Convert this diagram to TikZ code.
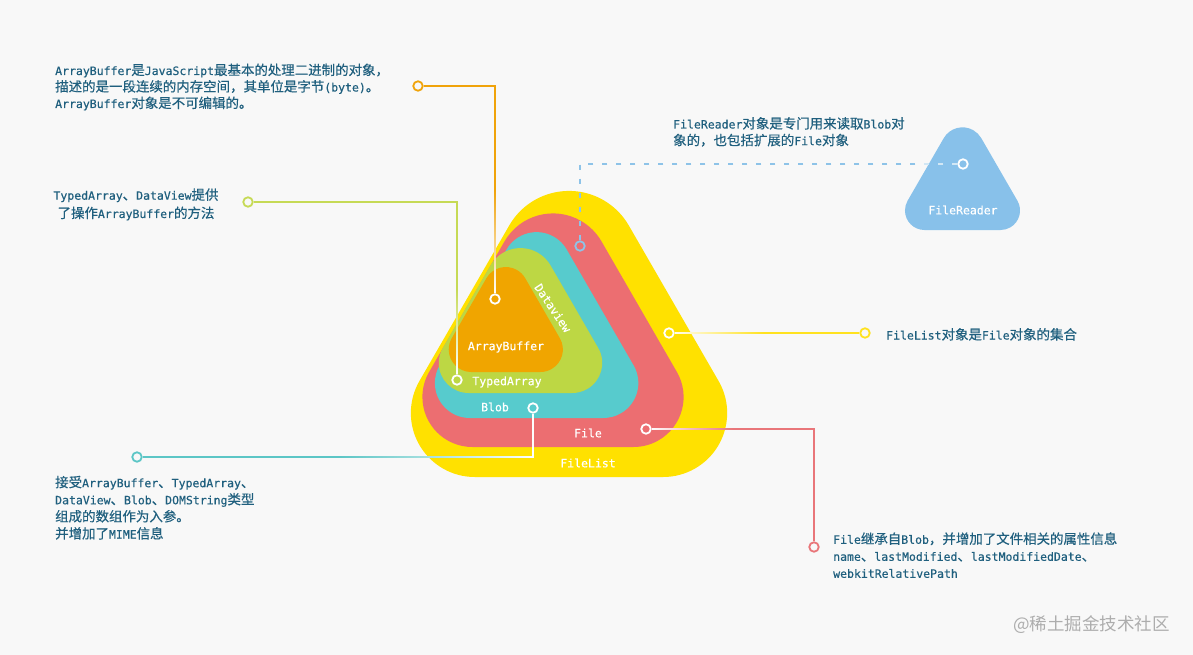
\documentclass[tikz,border=0pt]{standalone}
\usepackage{fontspec}
\setmainfont[FakeBold=0.4]{DejaVu Sans Mono}
\newfontfamily\cjkf[Scale=1.17,FakeBold=0.4]{Noto Sans CJK SC}
\newfontfamily\cjkw{Noto Sans CJK SC}
\newcommand\zh[1]{{\cjkf #1}}
\usetikzlibrary{fadings}
\definecolor{bg}{HTML}{F8F8F8}
\definecolor{shY}{HTML}{FFE100}
\definecolor{shR}{HTML}{EC6E71}
\definecolor{shT}{HTML}{57CBCD}
\definecolor{shG}{HTML}{BDD744}
\definecolor{shO}{HTML}{F0A500}
\definecolor{shB}{HTML}{88C1EA}
\definecolor{lnY}{HTML}{FFE21F}
\definecolor{lnG}{HTML}{C6DA55}
\definecolor{lnO}{HTML}{F0A30A}
\definecolor{lnT}{HTML}{5CC6C6}
\definecolor{lnR}{HTML}{E9767A}
\definecolor{lnB}{HTML}{8EC3E8}
\definecolor{txtc}{HTML}{1F5F7E}
\definecolor{wmc}{HTML}{ADADAD}
\tikzfading[name=fadeB, top color=transparent!100, bottom color=transparent!0, middle color=transparent!100]
\tikzfading[name=fadeR, left color=transparent!100, right color=transparent!0, middle color=transparent!100]
\tikzfading[name=fadeL, left color=transparent!0, right color=transparent!100, middle color=transparent!100]
% rounded equilateral triangle: colour, centre x, base y, side, apex radius, base radius
\newcommand\rtri[6]{%
  \fill[#1] ({#2-#4/2+1.732*#6},#3)
    arc[start angle=270,end angle=150,radius=#6pt]
    -- ({#2-0.866*#5},{#3-0.866*#4+1.5*#5})
    arc[start angle=150,end angle=30,radius=#5pt]
    -- ({#2+#4/2-0.866*#6},{#3-1.5*#6})
    arc[start angle=30,end angle=-90,radius=#6pt] -- cycle;}
\begin{document}
\begin{tikzpicture}[x=1pt,y=-1pt,
  txt/.style={text=txtc, inner sep=0pt, align=left},
  lab/.style={text=white, inner sep=0pt, font=\fontsize{11.5}{13}\selectfont},
  dot/.style={circle, draw, line width=1.8pt, minimum size=9.5pt, inner sep=0pt},
  conn/.style={line width=1.8pt},
  fadeline/.style={draw=white, line width=1.8pt},
  dashline/.style={dash pattern=on 5pt off 9pt}]
\useasboundingbox (0,0) rectangle (1193,655);
\fill[bg] (0,0) rectangle (1193,655);
% nested shapes
\rtri{shY}{569}{477}{410}{69}{64}
\rtri{shR}{553}{447}{334.4}{56}{50}
\rtri{shT}{536.6}{418}{254.7}{34.7}{35}
\rtri{shG}{520.5}{393}{207.4}{34.7}{30}
\rtri{shO}{505.8}{372}{147.1}{22.4}{22.5}
\rtri{shB}{962.5}{230}{143.6}{21.7}{19.5}
% shape labels
\node[lab] (lAB) at (506,347) {ArrayBuffer};
\node[lab] (lTA) at (507,382) {TypedArray};
\node[lab] (lBl) at (495,407) {Blob};
\node[lab] (lFi) at (588,433) {File};
\node[lab] (lFL) at (588,463) {FileList};
\node[lab, rotate=-56] (lDV) at (553,308) {Dataview};
\node[lab] (lFR) at (963,210) {FileReader};
% circles
\node[dot, lnO] (abO) at (418,86) {};
\node[dot, white] (abI) at (495,299) {};
\node[dot, lnG] (taO) at (248,202) {};
\node[dot, white] (taI) at (457,380) {};
\node[dot, white] (blI) at (533,408) {};
\node[dot, lnT] (blO) at (137,457) {};
\node[dot, white] (fiI) at (646,429) {};
\node[dot, lnR] (fiO) at (814,547) {};
\node[dot, white] (flI) at (669,333) {};
\node[dot, lnY] (flO) at (865,333) {};
\node[dot, white] (frI) at (963,164) {};
\node[dot, lnB] (frO) at (580,246) {};
\coordinate (frE) at (922,164);
% connectors
\draw[conn, lnO] (abO) -| (abI);
\draw[fadeline, path fading=fadeB] (abO) -| (abI);
\draw[conn, lnG] (taO) -| (taI);
\draw[fadeline, path fading=fadeB] (taO) -| (taI);
\draw[conn, lnT] (blI) |- (blO);
\draw[fadeline, path fading=fadeR] (blI) |- (blO);
\draw[conn, lnR] (fiI) -| (fiO);
\draw[fadeline, path fading=fadeL] (fiI) -| (fiO);
\draw[conn, lnY] (flI) -- (flO);
\draw[fadeline, path fading=fadeL] (flI) -- (flO) (flI.north) (flI.south);
\draw[conn, lnB, dashline] (frI) -| (frO);
\draw[conn, white, opacity=0.6, dashline] (frI) -- (frE);
% descriptions
\node[txt, anchor=base west, font=\fontsize{11.5}{16.5}\selectfont] (t1) at (55,108)
  {ArrayBuffer\zh{是}JavaScript\zh{最基本的处理二进制的对象，}\\
   \zh{描述的是一段连续的内存空间，其单位是字节}(byte)\zh{。}\\
   ArrayBuffer\zh{对象是不可编辑的。}};
\node[txt, align=center, anchor=base, font=\fontsize{11.5}{18.3}\selectfont] (t2) at (136,218)
  {TypedArray\zh{、}DataView\zh{提供}\\
   \zh{了操作}ArrayBuffer\zh{的方法}};
\node[txt, anchor=base west, font=\fontsize{11.5}{16.7}\selectfont] (t3) at (673,145.2)
  {FileReader\zh{对象是专门用来读取}Blob\zh{对}\\
   \zh{象的，也包括扩展的}File\zh{对象}};
\node[txt, anchor=base west, font=\fontsize{11.5}{17}\selectfont] (t4) at (886,339.5)
  {FileList\zh{对象是}File\zh{对象的集合}};
\node[txt, anchor=base west, font=\fontsize{11.5}{17.1}\selectfont] (t5) at (55,538.5)
  {\zh{接受}ArrayBuffer\zh{、}TypedArray\zh{、}\\
   DataView\zh{、}Blob\zh{、}DOMString\zh{类型}\\
   \zh{组成的数组作为入参。}\\
   \zh{并增加了}MIME\zh{信息}};
\node[txt, anchor=base west, font=\fontsize{11.5}{17}\selectfont] (t6) at (833,577.8)
  {File\zh{继承自}Blob\zh{，并增加了文件相关的属性信息}\\
   name\zh{、}lastModified\zh{、}lastModifiedDate\zh{、}\\
   webkitRelativePath};
\node[text=wmc, inner sep=0pt, anchor=west, font=\cjkw\fontsize{17.5}{19}\selectfont] (wm) at (1013,625) {@稀土掘金技术社区};
\end{tikzpicture}
\end{document}
